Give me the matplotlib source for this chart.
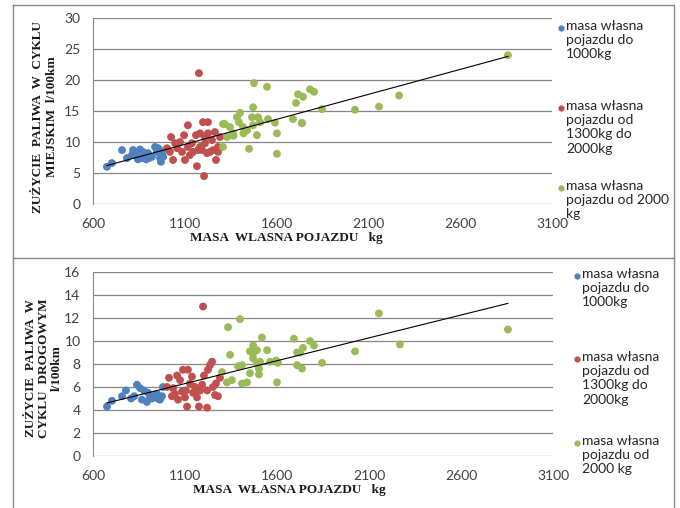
import numpy as np
import matplotlib
matplotlib.use('Agg')
import matplotlib.pyplot as plt
import matplotlib.lines as mlines

# ---- data: city cycle (top) ----
city_blue_x = [676, 703, 758, 785, 812, 818, 840, 856, 867, 872, 889, 894, 900, 921,
               938, 948, 954, 965, 970, 976, 982, 830, 905, 960, 845]
city_blue_y = [6.0, 6.6, 8.7, 7.4, 7.9, 8.7, 7.6, 8.8, 7.4, 8.4, 7.2, 7.6, 8.2, 7.6,
               9.2, 8.4, 9.0, 7.4, 6.8, 8.2, 7.6, 7.9, 7.4, 8.8, 7.2]

city_red_x = [1003, 1019, 1025, 1036, 1047, 1058, 1074, 1085, 1096, 1101, 1117, 1117,
              1128, 1139, 1145, 1161, 1166, 1172, 1177, 1183, 1183, 1194, 1199, 1205,
              1210, 1210, 1221, 1226, 1226, 1237, 1248, 1254, 1264, 1270, 1281, 1281, 1292]
city_red_y = [9.0, 8.4, 10.8, 7.1, 9.8, 9.0, 10.0, 8.4, 11.1, 7.1, 12.7, 9.2,
              7.9, 9.8, 8.4, 11.1, 6.1, 8.7, 21.1, 9.2, 11.4, 8.7, 13.2, 4.5,
              9.8, 10.8, 8.2, 13.2, 11.4, 8.4, 10.3, 8.7, 11.6, 7.1, 9.2, 8.4, 10.8]

city_green_x = [1308, 1308, 1318, 1330, 1346, 1363, 1384, 1395, 1401, 1417, 1439, 1450,
                1466, 1472, 1477, 1472, 1493, 1499, 1510, 1548, 1553, 1591, 1602, 1602,
                1689, 1706, 1717, 1738, 1744, 1782, 1804, 1847, 1738, 1365, 1420,
                2027, 2158, 2267, 2860]
city_green_y = [12.9, 9.2, 12.9, 10.8, 12.4, 11.4, 14.0, 13.2, 14.7, 12.4, 11.9, 8.9,
                14.0, 15.6, 19.5, 12.7, 11.1, 14.0, 13.2, 18.9, 13.7, 13.1, 11.4, 8.1,
                13.7, 16.3, 17.7, 13.1, 17.3, 18.5, 18.1, 15.3, 13.0, 11.0, 11.4,
                15.2, 15.7, 17.5, 24.0]

# ---- data: road cycle (bottom) ----
road_blue_x = [676, 703, 758, 779, 807, 824, 839, 856, 866, 877, 893, 899, 921, 926,
               942, 948, 953, 964, 975, 980, 910]
road_blue_y = [4.3, 4.8, 5.2, 5.7, 5.0, 5.2, 6.2, 5.9, 4.9, 5.7, 4.7, 5.5, 5.0, 5.2,
               5.3, 5.4, 5.0, 4.9, 5.2, 6.0, 5.1]

road_red_x = [1002, 1013, 1029, 1035, 1045, 1057, 1062, 1073, 1084, 1089, 1100, 1105,
              1111, 1116, 1127, 1138, 1144, 1154, 1165, 1165, 1176, 1182, 1193, 1198,
              1203, 1220, 1220, 1225, 1236, 1247, 1252, 1263, 1268, 1279, 1290]
road_red_y = [6.0, 6.8, 5.2, 5.9, 5.4, 7.0, 4.9, 6.6, 5.6, 7.5, 5.1, 5.7,
              4.3, 7.5, 6.3, 6.9, 5.5, 6.0, 5.1, 5.7, 4.3, 5.7, 6.2, 13.0,
              7.0, 4.2, 5.7, 7.5, 7.9, 8.2, 6.0, 5.3, 6.3, 5.2, 6.8]

road_green_x = [1301, 1328, 1334, 1345, 1355, 1388, 1399, 1410, 1410, 1437, 1453, 1453,
                1470, 1470, 1470, 1491, 1491, 1502, 1502, 1508, 1518, 1546, 1562, 1595,
                1600, 1605, 1692, 1709, 1709, 1725, 1736, 1741, 1779, 1801, 1845,
                2024, 2154, 2268, 2855]
road_green_y = [7.3, 6.4, 11.2, 8.8, 6.6, 7.8, 11.9, 7.9, 6.3, 6.4, 7.2, 9.1,
                9.6, 8.5, 8.9, 9.2, 8.1, 7.6, 7.1, 8.2, 10.3, 9.2, 8.2, 8.3,
                6.4, 8.1, 10.2, 9.0, 7.9, 9.0, 7.6, 9.4, 10.0, 9.6, 8.1,
                9.1, 12.4, 9.7, 11.0]

x_ticks = [600, 1100, 1600, 2100, 2600, 3100]
legend_top = ['masa własna\npojazdu do\n1000kg',
              'masa własna\npojazdu od\n1300kg do\n2000kg',
              'masa własna\npojazdu od 2000\nkg']
legend_bot = ['masa własna\npojazdu do\n1000kg',
              'masa własna\npojazdu od\n1300kg do\n2000kg',
              'masa własna\npojazdu od\n2000 kg']

BLUE = '#4f81bd'
RED = '#c0504d'
GREEN = '#9bbb59'
GRID = '#878787'
TICK = '#404040'
W, H = 680, 508


def px_rect(x0, y0, x1, y1):
    # pixel box (top-left origin) -> figure fraction rect
    return [x0 / W, 1 - y1 / H, (x1 - x0) / W, (y1 - y0) / H]


def draw_panel(ax, groups, ymax, ystep):
    for xs, ys, c in groups:
        ax.scatter(xs, ys, s=32, color=c, edgecolors='none', zorder=3)

    # linear trend over all points
    all_x = np.concatenate([np.asarray(g[0], float) for g in groups])
    all_y = np.concatenate([np.asarray(g[1], float) for g in groups])
    k, b = np.polyfit(all_x, all_y, 1)
    xx = np.array([all_x.min(), all_x.max()])
    ax.plot(xx, k * xx + b, color='black', lw=0.8, zorder=4)

    ax.set_xlim(600, 3100)
    ax.set_ylim(0, ymax)
    ax.set_xticks(x_ticks)
    ax.set_yticks(np.arange(0, ymax + 0.1, ystep))
    ax.yaxis.grid(True, color=GRID, lw=0.9)
    ax.set_axisbelow(True)
    for s in ['top', 'right', 'bottom']:
        ax.spines[s].set_visible(False)
    ax.spines['left'].set_color(GRID)
    ax.tick_params(length=0, labelsize=10, labelcolor=TICK)
    ax.tick_params(axis='x', pad=10)
    ax.tick_params(axis='y', pad=9)
    for lab in ax.get_xticklabels() + ax.get_yticklabels():
        lab.set_family('Lato')


fig = plt.figure(figsize=(W / 100, H / 100), dpi=100)

# outer frames
fig.add_artist(mlines.Line2D([13 / W, 674 / W, 674 / W, 13 / W, 13 / W],
                             [1 - 5 / H, 1 - 5 / H, 1 - 258 / H, 1 - 258 / H, 1 - 5 / H],
                             color=GRID, lw=1))
fig.add_artist(mlines.Line2D([13 / W, 13 / W], [1 - 258 / H, 0], color=GRID, lw=1))
fig.add_artist(mlines.Line2D([674 / W, 674 / W], [1 - 258 / H, 0], color=GRID, lw=1))

ax1 = fig.add_axes(px_rect(93, 18, 552, 204))
draw_panel(ax1, [(city_blue_x, city_blue_y, BLUE),
                 (city_red_x, city_red_y, RED),
                 (city_green_x, city_green_y, GREEN)], 30, 5)

ax2 = fig.add_axes(px_rect(93, 272, 553, 456))
draw_panel(ax2, [(road_blue_x, road_blue_y, BLUE),
                 (road_red_x, road_red_y, RED),
                 (road_green_x, road_green_y, GREEN)], 16, 2)

serif = dict(family='Liberation Serif', weight='bold', fontsize=9.5, color='#1a1a1a')

# axis titles
fig.text(286 / W, 1 - 238 / H, 'MASA  WLASNA POJAZDU   kg', ha='center', va='center', **serif)
fig.text(289 / W, 1 - 490 / H, 'MASA  WŁASNA POJAZDU   kg', ha='center', va='center', **serif)
fig.text(45 / W, 1 - 117 / H, 'ZUŻYCIE  PALIWA  W  CYKLU\nMIEJSKIM  l/100km', rotation=90,
         ha='center', va='center', multialignment='center', linespacing=1.2, **serif)
fig.text(44 / W, 1 - 368 / H, 'ZUŻYCIE  PALIWA  W\nCYKLU  DROGOWYM\nl/100km', rotation=90,
         ha='center', va='center', multialignment='center', linespacing=1.1, **serif)

# legends
def draw_legend(mx, tx, tops, labels):
    for (y, lab, c) in zip(tops, labels, [BLUE, RED, GREEN]):
        fig.add_artist(mlines.Line2D([mx / W], [1 - y / H], marker='o', ms=4.5,
                                     color=c, mec='none', ls='none'))
        fig.text(tx / W, 1 - (y - 8) / H, lab, ha='left', va='top', family='Lato',
                 fontsize=10, color='#262626', linespacing=1.22)

draw_legend(561, 566, [28, 108, 188], legend_top)
draw_legend(577, 582, [276, 359, 443], legend_bot)

fig.savefig('out.png', dpi=100)
